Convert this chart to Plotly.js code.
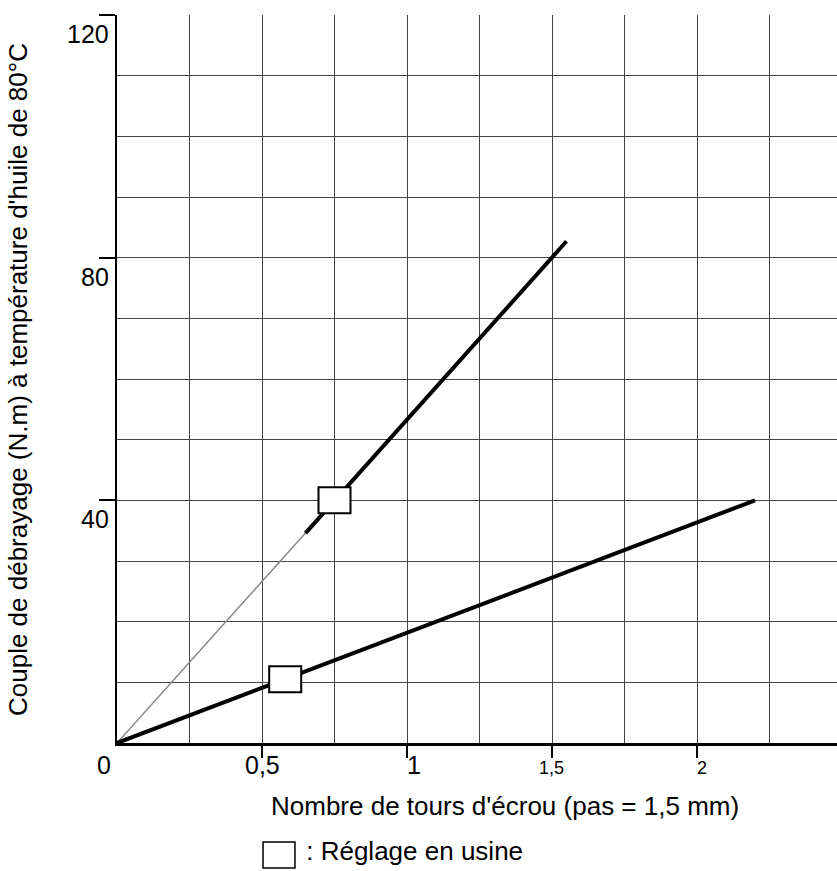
<!DOCTYPE html>
<html>
<head>
<meta charset="utf-8">
<script src="https://cdn.plot.ly/plotly-3.0.1.min.js"></script>
<style>html,body{margin:0;padding:0;background:#fff;}#chart{width:837px;height:871px;}</style>
</head>
<body>
<div id="chart"></div>
<script>
// ---- data ----
const steepThinX = [0, 0.65];
const steepThinY = [0, 34.6];
const steepX = [0.65, 1.55];
const steepY = [34.6, 82.7];
const shallowX = [0, 2.2];
const shallowY = [0, 40];
const factoryX = [0.75, 0.58];
const factoryY = [40, 10.5];
const xTickVals = [0, 0.5, 1, 1.5, 2];
const xTickText = ['0', '0,5', '1', '1,5', '2'];
const yTickVals = [40, 80, 120];
const yTickText = ['40', '80', '120'];
const xTitle = "Nombre de tours d'écrou (pas = 1,5 mm)";
const yTitle = "Couple de débrayage (N.m) à température d'huile de 80°C";
const legendText = " : Réglage en usine";

// ---- style ----
const FONT = 'Arial, "Liberation Sans", sans-serif';
const xLabelSize = [25, 25, 25, 18, 18];
const xLabelShift = [-13, 0, 7, -1, 5];
const xLabelYShift = [-6, -6, -6, -13, -13];

const traces = [
  {x: steepThinX, y: steepThinY, mode: 'lines', line: {color: '#888', width: 1.5}, hoverinfo: 'skip'},
  {x: steepX, y: steepY, mode: 'lines', line: {color: '#000', width: 4}, hoverinfo: 'skip'},
  {x: shallowX, y: shallowY, mode: 'lines', line: {color: '#000', width: 4}, hoverinfo: 'skip'}
];

const shapes = factoryX.map((fx, i) => ({
  type: 'rect', xref: 'x', yref: 'y', xsizemode: 'pixel', ysizemode: 'pixel',
  xanchor: fx, yanchor: factoryY[i], x0: -16, x1: 16, y0: -13, y1: 13,
  fillcolor: '#fff', line: {color: '#000', width: 2}, layer: 'above'
}));
// legend box
shapes.push({type: 'rect', xref: 'paper', yref: 'paper', x0: 0.2028, x1: 0.2472, y0: -0.1717, y1: -0.136,
  fillcolor: '#fff', line: {color: '#000', width: 1.5}});

const annotations = [];
xTickVals.forEach((v, i) => annotations.push({
  x: v, y: 0, xref: 'x', yref: 'y', text: xTickText[i], showarrow: false,
  xanchor: 'center', yanchor: 'top', xshift: xLabelShift[i], yshift: xLabelYShift[i],
  font: {family: FONT, size: xLabelSize[i], color: '#000'}
}));
yTickVals.forEach((v, i) => annotations.push({
  x: 0, y: v, xref: 'x', yref: 'y', text: yTickText[i], showarrow: false,
  xanchor: 'right', yanchor: 'top', xshift: -6, yshift: -3,
  font: {family: FONT, size: 25, color: '#000'}
}));
annotations.push({xref: 'paper', yref: 'paper', x: 0.539, y: -0.087, text: xTitle, showarrow: false,
  xanchor: 'center', yanchor: 'middle', font: {family: FONT, size: 26, color: '#000'}});
annotations.push({xref: 'paper', yref: 'paper', x: -0.1375, y: 0.4986, text: yTitle, showarrow: false,
  textangle: -90, xanchor: 'center', yanchor: 'middle', font: {family: FONT, size: 26, color: '#000'}});
annotations.push({xref: 'paper', yref: 'paper', x: 0.25, y: -0.148, text: legendText, showarrow: false,
  xanchor: 'left', yanchor: 'middle', font: {family: FONT, size: 26, color: '#000'}});

const layout = {
  width: 837, height: 871,
  margin: {l: 117, r: 0, t: 15, b: 128},
  paper_bgcolor: '#fff', plot_bgcolor: '#fff',
  showlegend: false,
  font: {family: FONT, color: '#000'},
  xaxis: {
    range: [0, 720 / 290], tickvals: [0.5, 1, 1.5, 2], showticklabels: false,
    ticks: 'outside', ticklen: 12, tickwidth: 2, tickcolor: '#000',
    showline: true, linecolor: '#000', linewidth: 2.5,
    showgrid: true, gridcolor: '#444', gridwidth: 1,
    minor: {dtick: 0.25, tick0: 0, showgrid: true, gridcolor: '#444', gridwidth: 1, ticks: ''},
    zeroline: false, fixedrange: true
  },
  yaxis: {
    range: [0, 120], tickvals: [40, 80, 120], showticklabels: false,
    ticks: 'outside', ticklen: 16, tickwidth: 2, tickcolor: '#000',
    showline: true, linecolor: '#000', linewidth: 2.5,
    showgrid: true, gridcolor: '#444', gridwidth: 1,
    minor: {dtick: 10, tick0: 0, showgrid: true, gridcolor: '#444', gridwidth: 1, ticks: ''},
    zeroline: false, fixedrange: true
  },
  shapes: shapes,
  annotations: annotations
};

Plotly.newPlot('chart', traces, layout, {displayModeBar: false, staticPlot: true});
</script>
</body>
</html>
